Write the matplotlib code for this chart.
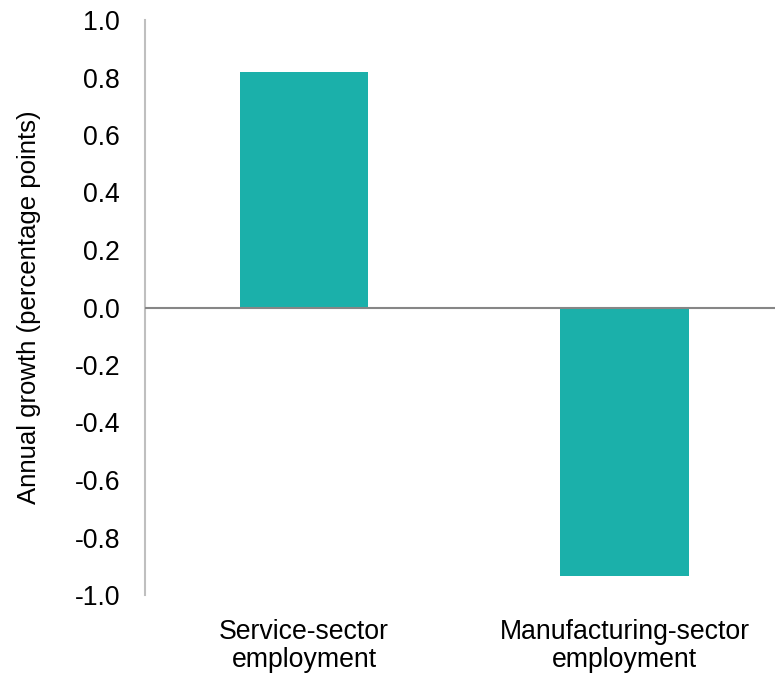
import matplotlib
matplotlib.use("Agg")
import matplotlib.pyplot as plt

categories = ["Service-sector\nemployment", "Manufacturing-sector\nemployment"]
growth = [0.818, -0.935]
y_ticks = [-1.0, -0.8, -0.6, -0.4, -0.2, 0.0, 0.2, 0.4, 0.6, 0.8, 1.0]

plt.rcParams["font.family"] = ["Liberation Sans", "DejaVu Sans"]

fig = plt.figure(figsize=(7.75, 6.73), dpi=100)
ax = fig.add_axes([145 / 775, 1 - 595 / 673, 630 / 775, 575 / 673])

x = range(len(categories))
ax.bar(x, growth, width=0.4, color="#1BB0AA", zorder=2)
ax.axhline(0, color="#868686", linewidth=1.5, zorder=3)

ax.set_xlim(-0.497, 1.47)
ax.set_ylim(-1.0, 1.0)
ax.set_yticks(y_ticks)
ax.set_yticklabels([f"{v:.1f}" for v in y_ticks])
ax.set_xticks(list(x))
ax.set_xticklabels(categories, linespacing=1.1)

for side in ["top", "right", "bottom"]:
    ax.spines[side].set_visible(False)
ax.spines["left"].set_color("#BFBFBF")
ax.spines["left"].set_linewidth(1.5)

ax.tick_params(axis="y", length=0, pad=18, labelsize=19.2, colors="black")
ax.tick_params(axis="x", length=0, pad=17, labelsize=19.2, colors="black")

ax.set_ylabel("Annual growth (percentage points)", fontsize=18.5, labelpad=24)

fig.savefig("out.png", dpi=100)
